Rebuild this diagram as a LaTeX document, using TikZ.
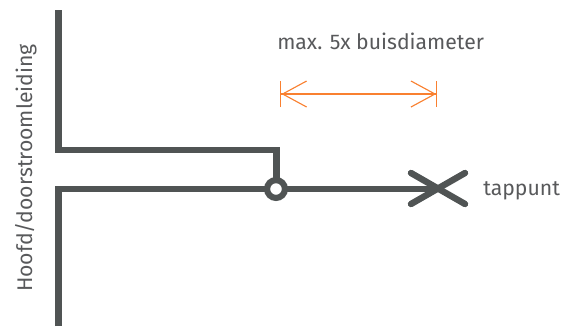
\documentclass[tikz,border=0pt]{standalone}
\usepackage{fontspec}
\setmainfont{Fira Sans}
\usetikzlibrary{arrows.meta}
\definecolor{pipegray}{HTML}{505454}
\definecolor{textgray}{HTML}{58595B}
\definecolor{dimorange}{HTML}{F98030}
\tikzset{
  pipe/.style={line width=4.8pt, pipegray},
  lbl/.style={textgray, font=\fontsize{15.9pt}{18pt}\selectfont, inner sep=0pt},
  dimline/.style={line width=.85pt, dimorange,
      {Bar[width=19.5pt,sep=0pt,line width=.85pt]Straight Barb[length=18pt,width=19.5pt,line width=.85pt]}-{Straight Barb[length=18pt,width=19.5pt,line width=.85pt]Bar[width=19.5pt,sep=0pt,line width=.85pt]}},
}
\begin{document}
\begin{tikzpicture}[x=.75pt,y=-.75pt]
      \useasboundingbox (0,0) rectangle (568,326);

      % main line, upper and lower part
      \coordinate (topend) at (58.5,10);
      \coordinate (bottomend) at (58.5,326);
      \coordinate (upperbend) at (58.5,150);
      \coordinate (lowerbend) at (58.5,189);
      \coordinate (branchbend) at (276.5,150);
      \coordinate (tapcentre) at (438,189);
      \coordinate (tapnw) at (411,173);
      \coordinate (tapse) at (465,204);
      \coordinate (tapne) at (465,173);
      \coordinate (tapsw) at (411,204);

      \draw [pipe] (topend) -- (upperbend) -- (branchbend) -- (276.5,189);
      \draw [pipe] (bottomend) -- (lowerbend) -- (tapcentre);

      \node [circle, draw=pipegray, line width=4.6pt, fill=white, minimum size=13.4pt, inner sep=0pt] (junction) at (276,189) {};

      \draw [pipe, line cap=round] (tapnw) -- (tapse);
      \draw [pipe, line cap=round] (tapsw) -- (tapne);

      \coordinate (dimleft) at (280.3,94);
      \coordinate (dimright) at (437.3,94);
      \draw [dimline] (dimleft) -- (dimright);

      \node [lbl, anchor=base west] (maxlabel) at (277,49) {max. 5x buisdiameter};
      \node [lbl, anchor=base west] (taplabel) at (483,195) {tappunt};
      \node [lbl, rotate=90, anchor=base] (mainlabel) at (32,168) {Hoofd/doorstroomleiding};
    \end{tikzpicture}
\end{document}
